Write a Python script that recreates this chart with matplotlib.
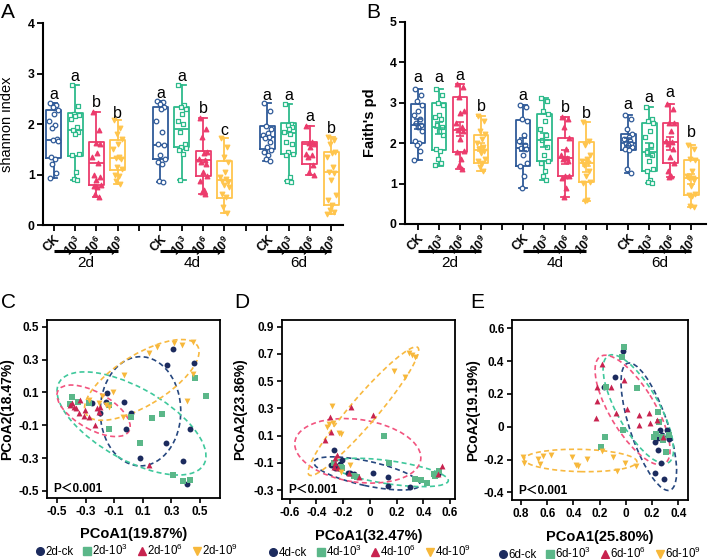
import numpy as np
import matplotlib
matplotlib.use('Agg')
import matplotlib.pyplot as plt
from matplotlib.patches import Ellipse
from matplotlib.lines import Line2D

plt.rcParams['font.family'] = ['Liberation Sans', 'DejaVu Sans', 'Noto Sans CJK SC']
plt.rcParams['axes.unicode_minus'] = False
plt.rcParams['mathtext.fontset'] = 'custom'
plt.rcParams['mathtext.rm'] = 'Liberation Sans'
plt.rcParams['mathtext.it'] = 'Liberation Sans:italic'
plt.rcParams['mathtext.bf'] = 'Liberation Sans:bold'

GROUPS = ['CK', r'$\mathbf{10^{3}}$', r'$\mathbf{10^{6}}$', r'$\mathbf{10^{9}}$']
LEGEND_SUFFIX = ['-ck', r'-10$^{3}$', r'-10$^{6}$', r'-10$^{9}$']
DAYS = ['2d', '4d', '6d']

# box stats per day/group: (whislo, q1, med, q3, whishi)
SHANNON_STATS = [
    (0.94, 1.32, 1.69, 2.27, 2.42), (0.89, 1.37, 1.88, 2.21, 2.77),
    (0.55, 0.80, 1.22, 1.65, 2.24), (0.82, 1.09, 1.32, 1.69, 2.08),
    (0.86, 1.30, 1.58, 2.34, 2.46), (0.90, 1.55, 1.91, 2.34, 2.77),
    (0.61, 0.97, 1.28, 1.46, 2.11), (0.23, 0.54, 0.90, 1.27, 1.73),
    (1.27, 1.50, 1.75, 1.97, 2.41), (0.87, 1.41, 1.82, 2.01, 2.40),
    (1.00, 1.20, 1.60, 1.65, 1.96), (0.21, 0.40, 1.05, 1.45, 1.75),
]
SHANNON_2D = [
    [2.42, 2.38, 2.33, 2.27, 2.20, 2.05, 1.98, 1.92, 1.70, 1.68, 1.66, 1.35, 1.30, 1.20, 1.02, 0.94],
    [2.77, 2.35, 2.20, 2.18, 2.15, 2.10, 1.95, 1.88, 1.85, 1.80, 1.40, 1.38, 1.05, 0.92, 0.89],
    [2.24, 1.88, 1.62, 1.60, 1.42, 1.35, 1.22, 1.00, 0.95, 0.90, 0.80, 0.78, 0.75, 0.62, 0.55],
    [2.08, 1.92, 1.80, 1.70, 1.60, 1.50, 1.35, 1.32, 1.30, 1.15, 1.10, 1.00, 0.98, 0.88, 0.82],
]
SHANNON_4D = [
    [2.46, 2.44, 2.40, 2.33, 2.30, 2.05, 1.85, 1.60, 1.58, 1.38, 1.30, 1.25, 1.20, 0.88, 0.86],
    [2.77, 2.38, 2.33, 2.30, 2.20, 2.05, 2.00, 1.85, 1.60, 1.55, 1.52, 1.48, 1.40, 0.90],
    [2.11, 1.90, 1.75, 1.45, 1.42, 1.30, 1.28, 1.25, 1.20, 1.05, 0.98, 0.88, 0.70, 0.65, 0.61],
    [1.73, 1.55, 1.35, 1.25, 1.05, 0.95, 0.92, 0.88, 0.85, 0.80, 0.75, 0.62, 0.55, 0.35, 0.23],
]
SHANNON_6D = [
    [2.41, 2.25, 1.96, 1.90, 1.82, 1.78, 1.75, 1.72, 1.65, 1.55, 1.48, 1.45, 1.38, 1.30, 1.27],
    [2.39, 2.00, 1.98, 1.95, 1.90, 1.85, 1.80, 1.65, 1.60, 1.45, 1.40, 1.38, 0.95, 0.88, 0.86],
    [1.96, 1.65, 1.62, 1.60, 1.55, 1.40, 1.38, 1.35, 1.18, 1.05, 1.00],
    [1.75, 1.68, 1.60, 1.45, 1.42, 1.35, 1.15, 1.05, 1.03, 0.90, 0.60, 0.50, 0.40, 0.30, 0.25, 0.21],
]
SHANNON_LETTERS = ['a', 'a', 'b', 'b', 'a', 'a', 'b', 'c', 'a', 'a', 'a', 'b']
SHANNON_LETTER_Y = [2.59, 2.95, 2.42, 2.20, 2.60, 2.95, 2.30, 1.88, 2.56, 2.56, 2.15, 1.92]

FAITH_STATS = [
    (1.58, 2.00, 2.45, 2.98, 3.35), (1.43, 1.83, 2.40, 3.00, 3.35),
    (1.35, 1.79, 2.33, 3.15, 3.47), (1.31, 1.52, 1.84, 2.21, 2.67),
    (0.89, 1.44, 1.88, 2.57, 2.95), (1.09, 1.57, 2.08, 2.72, 3.12),
    (0.67, 1.19, 1.63, 2.13, 2.66), (0.57, 1.05, 1.51, 2.04, 2.53),
    (1.26, 1.83, 2.00, 2.22, 2.70), (1.02, 1.30, 1.79, 2.51, 2.89),
    (1.16, 1.50, 2.02, 2.49, 2.98), (0.41, 0.72, 1.13, 1.58, 1.96),
]
FAITH_2D = [
    [3.33, 3.20, 3.05, 2.95, 2.80, 2.70, 2.60, 2.50, 2.45, 2.40, 2.30, 2.05, 2.00, 1.95, 1.80, 1.58],
    [3.35, 3.20, 3.00, 2.95, 2.70, 2.65, 2.60, 2.45, 2.40, 2.30, 2.20, 1.85, 1.80, 1.60, 1.50, 1.45],
    [3.46, 3.40, 3.15, 2.80, 2.75, 2.50, 2.40, 2.33, 2.30, 2.10, 1.80, 1.78, 1.60, 1.45, 1.35],
    [2.67, 2.55, 2.30, 2.22, 2.10, 2.00, 1.90, 1.85, 1.80, 1.75, 1.60, 1.55, 1.50, 1.40, 1.32],
]
FAITH_4D = [
    [2.95, 2.90, 2.60, 2.55, 2.20, 2.05, 1.95, 1.88, 1.85, 1.70, 1.50, 1.44, 1.20, 0.89],
    [3.12, 3.05, 2.80, 2.72, 2.55, 2.35, 2.20, 2.08, 1.90, 1.70, 1.57, 1.50, 1.30, 1.20, 1.09],
    [2.66, 2.60, 2.40, 2.13, 1.85, 1.70, 1.63, 1.62, 1.55, 1.20, 1.19, 1.15, 0.90, 0.67],
    [2.53, 2.05, 1.95, 1.70, 1.60, 1.55, 1.51, 1.45, 1.30, 1.20, 1.05, 1.02, 0.60, 0.57],
]
FAITH_6D = [
    [2.70, 2.60, 2.35, 2.22, 2.15, 2.10, 2.05, 2.00, 1.98, 1.95, 1.90, 1.85, 1.83, 1.35, 1.26],
    [2.89, 2.60, 2.55, 2.51, 2.30, 2.15, 1.95, 1.79, 1.70, 1.55, 1.35, 1.30, 1.10, 1.05, 1.02],
    [2.98, 2.85, 2.50, 2.49, 2.30, 2.05, 2.02, 1.98, 1.85, 1.65, 1.50, 1.30, 1.20, 1.16],
    [1.96, 1.85, 1.60, 1.58, 1.30, 1.20, 1.15, 1.13, 1.10, 0.95, 0.75, 0.72, 0.70, 0.45, 0.41],
]
FAITH_LETTERS = ['a', 'a', 'a', 'b', 'a', '', 'b', 'b', 'a', 'a', 'a', 'b']
FAITH_LETTER_Y = [3.62, 3.62, 3.68, 2.92, 3.18, 0, 2.88, 2.74, 2.97, 3.12, 3.25, 2.26]

# PCoA scores, panel C (2d)
C_CK_X = [0.314, 0.458, 0.272, -0.030, -0.147, -0.156, -0.256, -0.198, 0.019, -0.016, 0.081, 0.260, 0.433, 0.379, 0.412]
C_CK_Y = [0.364, 0.281, 0.267, 0.044, 0.094, 0.044, 0.033, -0.023, -0.027, -0.125, -0.297, -0.210, -0.121, -0.315, -0.459]
C_T3_X = [0.465, 0.542, -0.133, 0.081, 0.163, 0.237, 0.019, 0.309, 0.379, 0.430, -0.279, -0.353, -0.395, -0.135, -0.412]
C_T3_Y = [0.186, 0.078, -0.125, -0.206, -0.054, -0.033, -0.048, -0.403, -0.437, -0.433, 0.033, 0.039, 0.070, 0.023, 0.029]
C_T6_X = [-0.337, -0.407, -0.395, -0.379, -0.365, -0.349, -0.309, -0.279, -0.221, -0.198, -0.209, -0.233, 0.140, -0.302]
C_T6_Y = [0.054, 0.023, 0.033, 0.013, 0.003, -0.023, -0.044, -0.052, 0.003, 0.013, -0.017, -0.098, -0.342, -0.007]
C_T9_X = [0.449, 0.372, 0.319, 0.202, 0.140, -0.030, 0.449, 0.407, -0.105, -0.186, -0.279, -0.209, -0.156, -0.133, -0.035]
C_T9_Y = [0.409, 0.388, 0.399, 0.378, 0.338, 0.206, 0.211, 0.050, 0.104, 0.078, 0.054, 0.037, 0.023, 0.013, -0.052]

# panel D (4d)
D_CK_X = [-0.266, -0.291, -0.209, -0.239, -0.147, -0.164, 0.020, 0.139, 0.139, 0.301, 0.508, -0.222, -0.259, -0.122]
D_CK_Y = [-0.006, -0.116, -0.080, -0.124, -0.173, -0.178, -0.178, -0.202, -0.271, -0.281, -0.183, -0.109, -0.141, -0.183]
D_T3_X = [0.107, 0.147, 0.339, 0.383, 0.426, 0.483, 0.495, 0.518, -0.209, -0.117, -0.097, -0.214, -0.271, 0.488]
D_T3_Y = [0.097, -0.104, -0.222, -0.227, -0.246, -0.183, -0.190, -0.158, -0.141, -0.195, -0.202, -0.129, -0.104, -0.197]
D_T6_X = [-0.296, -0.139, 0.027, -0.288, -0.334, -0.264, -0.259, -0.239, -0.271, -0.159, -0.080, 0.538, 0.513, -0.247]
D_T6_Y = [0.239, 0.312, 0.251, 0.128, 0.067, -0.067, -0.104, -0.141, -0.129, -0.178, -0.202, -0.124, -0.183, -0.043]
D_T9_X = [0.294, 0.314, 0.339, 0.177, 0.264, -0.284, -0.309, -0.279, -0.321, -0.229, -0.214, -0.147, -0.214]
D_T9_Y = [0.704, 0.692, 0.680, 0.574, 0.528, 0.317, 0.182, 0.190, 0.165, 0.121, 0.115, -0.116, -0.165]

# panel E (6d)
E_CK_X = [-0.024, -0.082, -0.166, 0.222, 0.293, 0.265, 0.247, 0.247, 0.273, 0.316, 0.260, 0.331, 0.222, 0.286]
E_CK_Y = [0.464, 0.305, 0.244, -0.284, -0.321, -0.219, -0.142, -0.071, -0.050, -0.020, -0.020, -0.077, -0.091, -0.071]
E_T3_X = [-0.014, -0.026, -0.153, 0.083, 0.248, 0.253, 0.230, 0.217, 0.286, 0.326, 0.306, -0.158, -0.019, -0.191, 0.273]
E_T3_Y = [0.484, 0.427, 0.244, 0.234, 0.092, 0.031, -0.044, -0.061, -0.081, -0.050, -0.152, -0.061, -0.020, -0.126, -0.061]
E_T6_X = [-0.184, -0.014, -0.115, -0.217, -0.222, -0.227, 0.007, -0.074, 0.103, 0.103, 0.179, 0.184, 0.235, 0.286]
E_T6_Y = [0.383, 0.285, 0.244, 0.244, 0.159, 0.051, 0.106, 0.082, 0.071, 0.011, 0.082, 0.025, 0.041, -0.061]
E_T9_X = [-0.785, -0.775, -0.673, -0.633, -0.658, -0.572, -0.412, -0.369, -0.293, -0.379, -0.184, -0.100, -0.069, -0.006, 0.075]
E_T9_Y = [-0.183, -0.219, -0.199, -0.178, -0.227, -0.172, -0.183, -0.239, -0.199, -0.233, -0.146, -0.187, -0.270, -0.223, -0.237]

# dashed ellipses: (cx, cy, width, height, angle) for ck, 10^3, 10^6, 10^9
C_ELLIPSES = [(0.084, -0.015, 0.563, 0.665, 0), (0.021, -0.089, 1.13, 0.45, -25),
              (-0.244, -0.012, 0.555, 0.23, -25), (0.093, 0.176, 0.884, 0.32, 27)]
D_ELLIPSES = [(-0.022, -0.178, 0.81, 0.18, -12), (0.151, -0.171, 0.88, 0.17, -8),
              (-0.090, -0.012, 0.95, 0.46, -8), (-0.048, 0.279, 1.24, 0.20, 49)]
E_ELLIPSES = [(0.175, 0.0, 0.84, 0.28, 113.7), (0.095, 0.107, 0.80, 0.30, 127),
              (0.051, 0.102, 0.82, 0.32, 129), (-0.346, -0.206, 0.86, 0.136, -1)]

BOX_COLORS = ['#2F5A98', '#2DBA8B', '#EC3B6C', '#FFC54D']
BOX_MARKERS = ['o', 's', '^', 'v']
BOX_FILLED = [False, False, True, True]
PT_COLORS = ['#1C2B5E', '#5BB789', '#C8234F', '#F7B83B']
ELL_COLORS = ['#26477F', '#3FC89C', '#F2547F', '#F8B940']
JITTER = [-0.16, 0.12, -0.04, 0.18, 0.02, -0.20, 0.08, -0.10, 0.15, -0.02, 0.20, -0.13, 0.05, -0.07, 0.11, -0.18]

W, H = 709, 559
fig = plt.figure(figsize=(W / 100, H / 100), dpi=100)


def px_axes(left, top, right, bottom):
    return fig.add_axes([left / W, 1 - bottom / H, (right - left) / W, (bottom - top) / H])


def box_panel(ax, stats, points, letters, letter_y, ymax, ylabel, ylabel_bold, mean_bars, bar_y, lab_y):
    for d in range(3):
        for g in range(4):
            i = d * 4 + g
            pos = d * 5 + g
            col = BOX_COLORS[g]
            lo, q1, med, q3, hi = stats[i]
            lp = dict(color=col, lw=1.3)
            ax.bxp([dict(whislo=lo, q1=q1, med=med, q3=q3, whishi=hi, fliers=[])],
                   positions=[pos], widths=0.7, capwidths=0.35, showfliers=False,
                   boxprops=lp, whiskerprops=lp, capprops=lp, medianprops=lp)
            vals = np.array(points[d][g])
            xs = pos + np.resize(JITTER, len(vals))
            face = col if BOX_FILLED[g] else 'white'
            ax.scatter(xs, vals, s=11, marker=BOX_MARKERS[g], facecolors=face,
                       edgecolors=col, linewidths=0.9, zorder=3)
            if mean_bars:
                sem = vals.std(ddof=1) / np.sqrt(len(vals))
                ax.errorbar(pos, vals.mean(), yerr=sem, color=col, lw=1.2,
                            capsize=3, capthick=1.2, zorder=4)
                ax.plot([pos - 0.17, pos + 0.17], [vals.mean()] * 2, color=col, lw=1.2, zorder=4)
            if letters[i]:
                ax.text(pos, letter_y[i], letters[i], ha='center', va='center', fontsize=11.5)
        tr = ax.get_xaxis_transform()
        ax.plot([d * 5, d * 5 + 3], [bar_y, bar_y], color='black', lw=2.2,
                transform=tr, clip_on=False, solid_capstyle='butt')
        ax.text(d * 5 + 1.5, lab_y, DAYS[d], transform=tr, ha='center', va='center', fontsize=11)

    ax.set_ylim(0, ymax)
    ax.set_yticks(range(ymax + 1))
    ticks = list(range(14))
    labels = [GROUPS[t % 5] if t % 5 < 4 else '' for t in ticks]
    ax.set_xticks(ticks, labels)
    for lab in ax.get_xticklabels():
        lab.set_rotation(45)
        lab.set_ha('right')
        lab.set_va('top')
        lab.set_rotation_mode('anchor')
    for lab in ax.get_xticklabels() + ax.get_yticklabels():
        lab.set_fontweight('bold')
        lab.set_fontsize(8.8)
    ax.spines['top'].set_visible(False)
    ax.spines['right'].set_visible(False)
    ax.spines['left'].set_linewidth(1.5)
    ax.spines['bottom'].set_linewidth(1.5)
    ax.tick_params(width=1.3, length=4, pad=2)
    ax.set_ylabel(ylabel, fontsize=10.5, fontweight='bold' if ylabel_bold else 'normal')


ax_a = px_axes(43, 23, 343, 225)
ax_a.set_xlim(-0.5, 13.55)
box_panel(ax_a, SHANNON_STATS, [SHANNON_2D, SHANNON_4D, SHANNON_6D], SHANNON_LETTERS,
          SHANNON_LETTER_Y, 4, 'shannon index', False, False, -0.129, -0.19)
ax_a.yaxis.set_label_coords(-0.098, 0.5)

ax_b = px_axes(405, 22, 706, 224)
ax_b.set_xlim(-0.62, 13.7)
box_panel(ax_b, FAITH_STATS, [FAITH_2D, FAITH_4D, FAITH_6D], FAITH_LETTERS,
          FAITH_LETTER_Y, 5, "Faith's pd", True, True, -0.132, -0.195)
ax_b.yaxis.set_label_coords(-0.092, 0.5)


def pcoa_panel(ax, xs, ys, ells, day, xlabel, ylabel, xlim, ylim, xticks, xlabels, yticks, ylabels, ylab_x, leg_x):
    for k in range(4):
        cx, cy, w, h, ang = ells[k]
        ax.add_patch(Ellipse((cx, cy), w, h, angle=ang, fill=False, ec=ELL_COLORS[k],
                             lw=1.2, ls=(0, (3, 2))))
    for k in range(4):
        ax.scatter(xs[k], ys[k], s=18, marker=BOX_MARKERS[k], color=PT_COLORS[k],
                   linewidths=0, zorder=3)
    ax.set_xlim(*xlim)
    ax.set_ylim(*ylim)
    ax.set_xticks(xticks, xlabels)
    ax.set_yticks(yticks, ylabels)
    for lab in ax.get_xticklabels() + ax.get_yticklabels():
        lab.set_fontweight('bold')
        lab.set_fontsize(8.5)
    for sp in ax.spines.values():
        sp.set_linewidth(1.3)
    ax.tick_params(width=1.2, length=3.5, pad=2)
    ax.set_xlabel(xlabel, fontsize=10.5, fontweight='bold')
    ax.set_ylabel(ylabel, fontsize=10, fontweight='bold')
    ax.xaxis.set_label_coords(0.5, -0.165)
    ax.yaxis.set_label_coords(ylab_x, 0.5)
    ax.text(0.035, 0.015, 'P＜0.001', transform=ax.transAxes, fontsize=8.5,
            fontweight='bold', ha='left', va='bottom')
    handles = [Line2D([], [], ls='none', marker=BOX_MARKERS[k], color=PT_COLORS[k],
                      markersize=5.5, label=day + LEGEND_SUFFIX[k]) for k in range(4)]
    ax.legend(handles=handles, loc='center', bbox_to_anchor=(leg_x, -0.295), ncol=4,
              frameon=False, fontsize=8.3, handlelength=0.6, handletextpad=0.15,
              columnspacing=0.9, borderaxespad=0, borderpad=0)


ax_c = px_axes(47, 320, 220, 498)
pcoa_panel(ax_c, [C_CK_X, C_T3_X, C_T6_X, C_T9_X], [C_CK_Y, C_T3_Y, C_T6_Y, C_T9_Y],
           C_ELLIPSES, '2d', 'PCoA1(19.87%)', 'PCoA2(18.47%)', (-0.57, 0.64), (-0.543, 0.541),
           [-0.5, -0.3, -0.1, 0.1, 0.3, 0.5], ['-0.5', '-0.3', '-0.1', '0.1', '0.3', '0.5'],
           [-0.5, -0.3, -0.1, 0.1, 0.3, 0.5], ['-0.5', '-0.3', '-0.1', '0.1', '0.3', '0.5'], -0.19, 0.52)

ax_d = px_axes(282, 320, 455, 499)
pcoa_panel(ax_d, [D_CK_X, D_T3_X, D_T6_X, D_T9_X], [D_CK_Y, D_T3_Y, D_T6_Y, D_T9_Y],
           D_ELLIPSES, '4d', 'PCoA1(32.47%)', 'PCoA2(23.86%)', (-0.657, 0.637), (-0.366, 0.949),
           [-0.6, -0.4, -0.2, 0, 0.2, 0.4, 0.6], ['-0.6', '-0.4', '-0.2', '0', '0.2', '0.4', '0.6'],
           [-0.3, -0.1, 0.1, 0.3, 0.5, 0.7, 0.9], ['-0.3', '-0.1', '0.1', '0.3', '0.5', '0.7', '0.9'], -0.20, 0.51)

ax_e = px_axes(512, 320, 688, 500)
pcoa_panel(ax_e, [E_CK_X, E_T3_X, E_T6_X, E_T9_X], [E_CK_Y, E_T3_Y, E_T6_Y, E_T9_Y],
           E_ELLIPSES, '6d', 'PCoA1(25.80%)', 'PCoA2(19.19%)', (-0.869, 0.474), (-0.447, 0.651),
           [-0.8, -0.6, -0.4, -0.2, 0, 0.2, 0.4], ['0.8', '0.6', '0.4', '0.2', '0', '0.2', '0.4'],
           [-0.4, -0.2, 0, 0.2, 0.4, 0.6], ['-0.4', '-0.2', '0', '0.2', '0.4', '0.6'], -0.18, 0.50)

for lab, x, y in [('A', 8, 13), ('B', 373, 13), ('C', 8, 303), ('D', 242, 303), ('E', 477, 303)]:
    fig.text(x / W, 1 - y / H, lab, fontsize=15, ha='center', va='center')

fig.savefig('out.png', dpi=100)
